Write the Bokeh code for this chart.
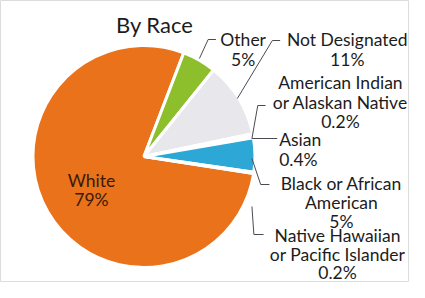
import math
from bokeh.plotting import figure
from bokeh.models import Range1d, ColumnDataSource
from bokeh.core.properties import value
from bokeh.embed import file_html
from bokeh.resources import INLINE

# ---- data ----
categories = ["White", "Other", "Not Designated", "American Indian or Alaskan Native",
              "Asian", "Black or African American", "Native Hawaiian or Pacific Islander"]
values = [79, 5, 11, 0.2, 0.4, 5, 0.2]
pct_labels = ["79%", "5%", "11%", "0.2%", "0.4%", "5%", "0.2%"]
label_lines = [["White"], ["Other"], ["Not Designated"], ["American Indian", "or Alaskan Native"],
               ["Asian"], ["Black or African", "American"], ["Native Hawaiian", "or Pacific Islander"]]
colors = ["#E9721A", "#8DBE2B", "#E7E7EC", "#E7E7EC", "#E7E7EC", "#2CA7D6", "#2CA7D6"]
title = "By Race"

# ---- layout (reference pixel coords; data y = -pixel y) ----
W, H = 409, 282
cx, cy, r = 152, 164, 111
white_end_deg = 21.0  # clockwise from 12 o'clock where the first slice ends
FONT = value("Lato")

p = figure(width=W, height=H, output_backend="svg", toolbar_location=None,
           x_range=Range1d(4.5, 425), y_range=Range1d(-290, -8), min_border=0)
p.axis.visible = False
p.grid.visible = False
p.outline_line_color = "#dcdcdc"
p.outline_line_width = 1
p.background_fill_color = "white"

total = sum(values)
start = white_end_deg - 360.0 * values[0] / total
starts, ends = [], []
a = start
for v in values:
    b = a + 360.0 * v / total
    # clockwise a->b from top  =>  math angles (90-b) .. (90-a) anticlockwise
    starts.append(math.radians(90 - b))
    ends.append(math.radians(90 - a))
    a = b

src = ColumnDataSource(dict(x=[cx] * len(values), y=[-cy] * len(values),
                            s=starts, e=ends, c=colors))
p.wedge(x="x", y="y", radius=r, radius_units="screen", start_angle="s", end_angle="e",
        fill_color="c", line_color="white", line_width=3, source=src)

# leader lines
leaders = [
    ([226, 218, 209], [47, 47, 66]),
    ([292, 284, 248], [48, 48, 106]),
    ([277, 269, 263], [113, 113, 146]),
    ([289, 263], [146, 146]),
    ([281, 272, 263], [192, 192, 166]),
    ([275, 265, 263], [242, 242, 214]),
]
for xs, ys in leaders:
    p.line(xs, [-y for y in ys], line_color="#4a4a55", line_width=1)

# labels: (x, first baseline, align, gap)
label_layout = [
    (98, 188, "center", 19),
    (254, 47, "center", 20),
    (361, 47, "center", 20),
    (354, 90, "center", 19.5),
    (291, 147, "left", 20),
    (355, 191, "center", 19),
    (351, 243, "center", 18.5),
]
tx, ty, tt, ta, tc = [], [], [], [], []
for i, (lx, ly, al, gap) in enumerate(label_layout):
    lines = label_lines[i] + [pct_labels[i]]
    for k, line in enumerate(lines):
        tx.append(lx)
        ty.append(-(ly + k * gap))
        tt.append(line)
        ta.append(al)
        tc.append("#3a1a0c" if i == 0 else "#1c1c1c")
p.text(x="x", y="y", text="t", text_align="a", text_color="c", text_baseline="alphabetic",
       text_font=FONT, text_font_size="17.5px",
       source=ColumnDataSource(dict(x=tx, y=ty, t=tt, a=ta, c=tc)))

p.text(x=[163], y=[-32], text=[title], text_align="center", text_baseline="alphabetic",
       text_font=FONT, text_font_size="22px", text_color="#1c1c1c")

open("out.html", "w").write(file_html(p, INLINE))
